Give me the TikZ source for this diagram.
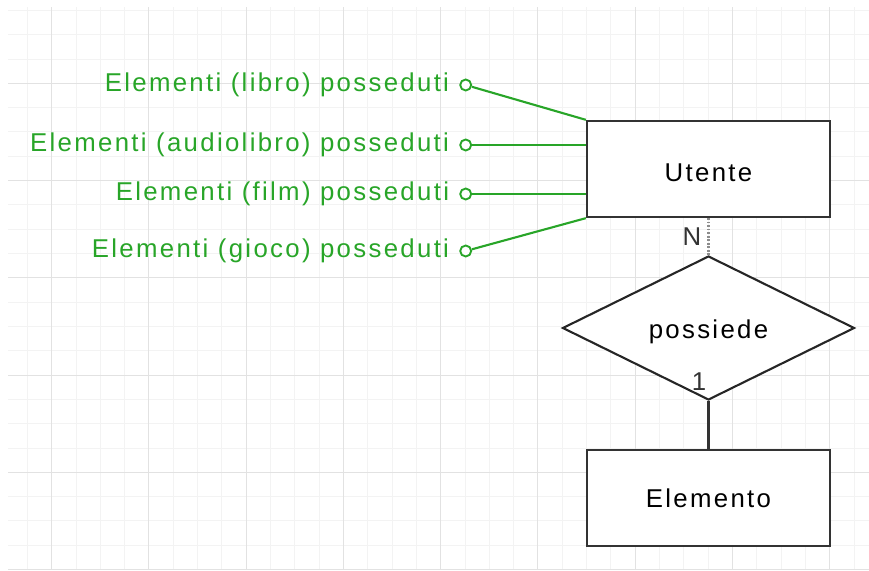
\documentclass[tikz,border=0pt]{standalone}
\usepackage{fontspec}
\setmainfont{Liberation Sans}[LetterSpace=9]
\usetikzlibrary{positioning, shapes.geometric}
\definecolor{attrgreen}{RGB}{40,165,40}
\definecolor{gridmajor}{RGB}{226,226,226}
\definecolor{gridminor}{RGB}{243,243,243}
\definecolor{boxgray}{RGB}{51,51,51}

\begin{document}
\begin{tikzpicture}[
    x=0.03cm, y=-0.03cm,
    font=\fontsize{22}{26}\selectfont,
    entity/.style={rectangle, draw=boxgray, fill=white, line width=2pt,
                minimum width=7.29cm, minimum height=2.88cm, align=center,
                text height=21pt},
    relation/.style={diamond, draw=black!85, fill=white, line width=1.8pt, aspect=2,
                minimum width=8.76cm, minimum height=4.32cm, inner sep=0pt,
                text height=22pt},
    attrdot/.style={circle, draw=attrgreen, fill=white, line width=1.6pt,
                minimum size=0.33cm, inner sep=0pt},
    attrtext/.style={inner sep=0pt, text=attrgreen},
    attrline/.style={attrgreen, line width=1.8pt},
    minorline/.style={gridminor, line width=0.8pt},
    majorline/.style={gridmajor, line width=0.8pt}
]
\useasboundingbox (0,0) rectangle (869,571);

% background grid
\begin{scope}
\clip (8,8) rectangle (869,569);
\foreach \k in {-1,...,33} \draw[minorline] ({51.7+24.3125*\k},0) -- ++(0,580);
\foreach \k in {-3,...,20} \draw[minorline] (0,{83.3+24.3125*\k}) -- ++(880,0);
\foreach \k in {0,...,8} \draw[majorline] ({51.7+97.25*\k},0) -- ++(0,580);
\foreach \k in {0,...,5} \draw[majorline] (0,{83.3+97.25*\k}) -- ++(880,0);
\end{scope}

\node[entity] (utente) at (708.5,169) {Utente};
\node[relation] (possiede) at (708.5,328) {possiede};
\node[entity, text height=16pt] (elemento) at (708.5,498) {Elemento};

\draw[line width=1.8pt, black!45, dash pattern=on 1.5pt off 1.5pt] (utente) -- node[left=2pt, text=boxgray] (cardn) {N} (possiede);
\draw[line width=2pt, boxgray] (possiede) -- (elemento);
\node[text=boxgray] (cardone) at (699,382) {1};

% attributes
\node[attrdot] (a1) at (465.7,85) {};
\node[attrdot] (a2) at (465.7,145) {};
\node[attrdot] (a3) at (465.7,194) {};
\node[attrdot] (a4) at (465.7,251) {};
\node[attrtext, left=0.3cm of a1] (t1) {Elementi (libro) posseduti};
\node[attrtext, left=0.3cm of a2] (t2) {Elementi (audiolibro) posseduti};
\node[attrtext, left=0.3cm of a3] (t3) {Elementi (film) posseduti};
\node[attrtext, left=0.3cm of a4] (t4) {Elementi (gioco) posseduti};

\draw[attrline] (a1) -- (utente.north west);
\draw[attrline] (a2) -- (a2 -| utente.west);
\draw[attrline] (a3) -- (a3 -| utente.west);
\draw[attrline] (a4) -- (utente.south west);
\end{tikzpicture}
\end{document}
